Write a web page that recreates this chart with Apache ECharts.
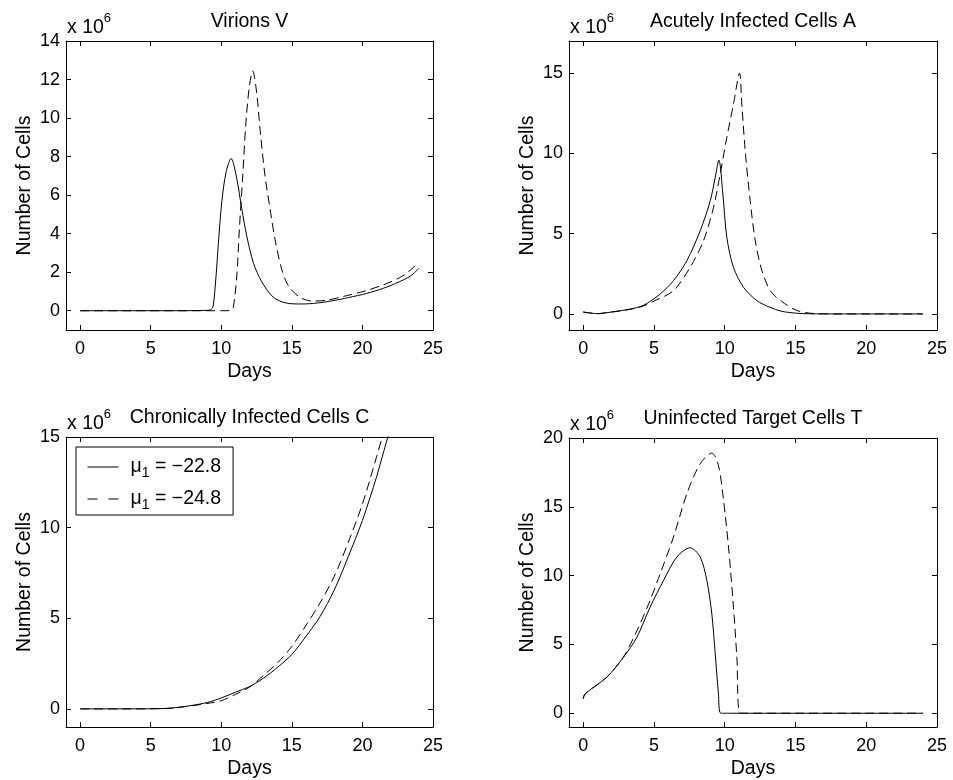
<!DOCTYPE html>
<html>
<head>
<meta charset="utf-8">
<script src="https://cdn.jsdelivr.net/npm/echarts@6/dist/echarts.min.js"></script>
<style>
  html, body { margin: 0; padding: 0; background: #fff; }
  #main { width: 953px; height: 780px; }
</style>
</head>
<body>
<div id="main"></div>
<script>
// x 10^6 units everywhere
var xTicks = [0, 5, 10, 15, 20, 25];
var vTicks = [0, 2, 4, 6, 8, 10, 12, 14];
var aTicks = [0, 5, 10, 15];
var cTicks = [0, 5, 10, 15];
var tTicks = [0, 5, 10, 15, 20];

var legendNames = ['\u03bc1 = \u221222.8', '\u03bc1 = \u221224.8'];

// Virions V
var vDaysSolid = [0, 3, 6, 9, 9.3, 9.44, 9.63, 9.8, 10.03, 10.34, 10.7, 11.1, 11.45, 11.8, 12.27, 12.87, 13.69, 14.6, 15.7, 16.8, 17.9, 19, 20.3, 21.5, 22.6, 23.4, 24];
var vSolid = [0, 0, 0, 0.02, 0.08, 0.3, 1.8, 3.55, 5.6, 7.2, 7.9, 6.85, 5.3, 3.9, 2.5, 1.5, 0.7, 0.4, 0.35, 0.4, 0.52, 0.68, 0.9, 1.17, 1.5, 1.8, 2.2];
var vDaysDashed = [0, 3, 6, 9, 10, 10.7, 10.86, 11.1, 11.28, 11.52, 11.73, 11.99, 12.23, 12.51, 12.75, 13.1, 13.46, 13.81, 14.28, 14.75, 15.58, 16.5, 17.5, 18.7, 20.3, 21.5, 22.6, 23.3, 23.9];
var vDashed = [0, 0, 0, 0, 0, 0.02, 0.2, 1.8, 4.2, 7.0, 9.6, 11.66, 12.45, 11.3, 9.4, 7.0, 5.27, 3.7, 2.16, 1.3, 0.69, 0.5, 0.55, 0.75, 1.05, 1.35, 1.7, 2.05, 2.45];

// Acutely Infected Cells A
var aDaysSolid = [0, 1, 2, 3, 4, 4.5, 5.44, 6.38, 7.33, 8.27, 8.98, 9.33, 9.59, 9.87, 10.15, 10.62, 11.33, 12.27, 13.2, 14, 15, 16, 18, 20, 22, 24];
var aSolid = [0.12, 0.02, 0.12, 0.25, 0.45, 0.65, 1.24, 2.07, 3.32, 5.18, 7.05, 8.5, 9.58, 7.47, 4.77, 2.9, 1.66, 0.83, 0.41, 0.17, 0.05, 0.01, 0, 0, 0, 0];
var aDaysDashed = [0, 1, 2, 3, 4, 5, 6.38, 7.56, 8.5, 9.21, 9.68, 10.15, 10.62, 11.05, 11.21, 11.45, 11.8, 12.16, 12.63, 13.22, 14, 15, 16, 18, 20, 22, 24];
var aDashed = [0.12, 0.02, 0.12, 0.24, 0.42, 0.8, 1.45, 2.9, 4.56, 6.63, 8.71, 10.99, 13.07, 15.0, 13.07, 10.16, 7.05, 4.56, 2.7, 1.45, 0.8, 0.25, 0.05, 0, 0, 0, 0];

// Chronically Infected Cells C
var cDaysSolid = [0, 3, 6, 7, 8, 9, 10, 11, 12, 13, 14, 15, 16, 17, 18, 19, 20, 21, 21.8, 22.4];
var cSolid = [0, 0, 0.02, 0.09, 0.2, 0.35, 0.6, 0.92, 1.23, 1.7, 2.3, 3.0, 4.0, 5.1, 6.55, 8.4, 10.4, 12.8, 15.0, 16.5];
var cDaysDashed = [0, 3, 6, 7, 8, 9, 10, 11, 12, 13, 14, 15, 16, 17, 18, 19, 20, 21, 21.4, 22];
var cDashed = [0, 0, 0.02, 0.08, 0.18, 0.3, 0.45, 0.8, 1.2, 1.85, 2.55, 3.45, 4.6, 5.85, 7.3, 9.2, 11.3, 13.9, 15.0, 16.8];

// Uninfected Target Cells T
var tDaysSolid = [0, 0.14, 1.67, 2.85, 3.8, 4.73, 5.68, 6.62, 7.56, 8.27, 8.74, 9.09, 9.33, 9.56, 9.73, 10.5, 15, 20, 24];
var tSolid = [1.05, 1.41, 2.62, 4.07, 5.53, 7.71, 9.65, 11.35, 12.03, 11.35, 9.65, 7.23, 4.32, 1.41, 0, 0, 0, 0, 0];
var tDaysDashed = [0, 0.14, 1.67, 2.85, 3.8, 4.73, 5.44, 6.38, 7.33, 8.27, 9.09, 9.56, 9.92, 10.27, 10.62, 10.86, 11.1, 12, 15, 20, 24];
var tDashed = [1.05, 1.41, 2.62, 4.1, 6.0, 8.2, 10.13, 12.8, 15.95, 18.13, 18.91, 18.0, 15.47, 12.07, 7.71, 4.07, 0, 0, 0, 0, 0];

var panels = [
  { title: 'Virions V', left: 66, top: 41, width: 367, height: 289, yMin: -1, yMax: 14, yTicks: vTicks,
    solid: [vDaysSolid, vSolid], dashed: [vDaysDashed, vDashed] },
  { title: 'Acutely Infected Cells A', left: 569, top: 41, width: 368, height: 289, yMin: -1, yMax: 17, yTicks: aTicks,
    solid: [aDaysSolid, aSolid], dashed: [aDaysDashed, aDashed] },
  { title: 'Chronically Infected Cells C', left: 66, top: 437, width: 367, height: 290, yMin: -1, yMax: 15, yTicks: cTicks,
    solid: [cDaysSolid, cSolid], dashed: [cDaysDashed, cDashed] },
  { title: 'Uninfected Target Cells T', left: 569, top: 438, width: 368, height: 289, yMin: -1, yMax: 20, yTicks: tTicks,
    solid: [tDaysSolid, tSolid], dashed: [tDaysDashed, tDashed] }
];

var FONT = '"Liberation Sans", Arial, Helvetica, sans-serif';
var BIG = 19.5;

function zip(xs, ys) {
  return xs.map(function (x, i) { return [x, ys[i]]; });
}

var grids = [], xAxes = [], yAxes = [], series = [], titles = [];

panels.forEach(function (p, i) {
  grids.push({ left: p.left, top: p.top, width: p.width, height: p.height, containLabel: false });

  var tickStyle = { show: true, inside: true, length: 5, lineStyle: { color: '#000', width: 1 } };
  // bottom axis with labels
  xAxes.push({
    gridIndex: i, type: 'value', min: -1, max: 25, position: 'bottom',
    name: 'Days', nameLocation: 'middle', nameGap: 32,
    nameTextStyle: { fontSize: BIG, color: '#000', fontFamily: FONT },
    axisLine: { show: true, onZero: false, lineStyle: { color: '#000', width: 1 } },
    axisTick: Object.assign({ customValues: xTicks }, tickStyle),
    axisLabel: { customValues: xTicks, margin: 10, fontSize: 18, color: '#000', fontFamily: FONT },
    splitLine: { show: false }
  });
  // top mirror axis
  xAxes.push({
    gridIndex: i, type: 'value', min: -1, max: 25, position: 'top',
    axisLine: { show: true, onZero: false, lineStyle: { color: '#000', width: 1 } },
    axisTick: Object.assign({ customValues: xTicks }, tickStyle),
    axisLabel: { show: false }, splitLine: { show: false }
  });
  yAxes.push({
    gridIndex: i, type: 'value', min: p.yMin, max: p.yMax, position: 'left',
    name: 'Number of Cells', nameLocation: 'middle', nameGap: 31,
    nameTextStyle: { fontSize: BIG, color: '#000', fontFamily: FONT },
    axisLine: { show: true, onZero: false, lineStyle: { color: '#000', width: 1 } },
    axisTick: Object.assign({ customValues: p.yTicks }, tickStyle),
    axisLabel: { customValues: p.yTicks, margin: 6, fontSize: 18, color: '#000', fontFamily: FONT },
    splitLine: { show: false }
  });
  yAxes.push({
    gridIndex: i, type: 'value', min: p.yMin, max: p.yMax, position: 'right',
    axisLine: { show: true, onZero: false, lineStyle: { color: '#000', width: 1 } },
    axisTick: Object.assign({ customValues: p.yTicks }, tickStyle),
    axisLabel: { show: false }, splitLine: { show: false }
  });

  series.push({
    name: legendNames[0], type: 'line', xAxisIndex: i * 2, yAxisIndex: i * 2,
    data: zip(p.solid[0], p.solid[1]), showSymbol: false, symbol: 'none', smooth: 0.3, clip: true,
    lineStyle: { color: '#000', width: 1, type: 'solid' }, itemStyle: { color: '#000' }, silent: true
  });
  series.push({
    name: legendNames[1], type: 'line', xAxisIndex: i * 2, yAxisIndex: i * 2,
    data: zip(p.dashed[0], p.dashed[1]), showSymbol: false, symbol: 'none', smooth: 0.3, clip: true,
    lineStyle: { color: '#000', width: 1, type: [9, 5] }, itemStyle: { color: '#000' }, silent: true
  });

  var cx = p.left + p.width / 2;
  titles.push({
    text: p.title, left: cx, top: p.top - 29.5, textAlign: 'center', padding: 0,
    textStyle: { fontSize: BIG, fontWeight: 'normal', color: '#000', fontFamily: FONT, lineHeight: 20 }
  });
  titles.push({
    text: '{b|x 10}{s|6}', left: p.left + 1, top: p.top - 23, padding: 0,
    textStyle: {
      fontWeight: 'normal',
      rich: {
        b: { fontSize: BIG, lineHeight: 20, fontWeight: 'normal', color: '#000', fontFamily: FONT },
        s: { fontSize: 13, lineHeight: 13, fontWeight: 'normal', color: '#000', fontFamily: FONT, padding: [0, 0, 20, 0] }
      }
    }
  });
});

var myChart = echarts.init(document.getElementById('main'), null, { renderer: 'canvas' });
myChart.setOption({
  backgroundColor: '#fff',
  animation: false,
  title: titles,
  grid: grids,
  xAxis: xAxes,
  yAxis: yAxes,
  legend: {
    data: [
      { name: legendNames[0] },
      { name: legendNames[1], lineStyle: { type: [10, 11], width: 1 } }
    ],
    orient: 'vertical', left: 76, top: 447,
    padding: [7, 12, 3, 11], itemGap: 6, itemWidth: 31, itemHeight: 14,
    borderColor: '#000', borderWidth: 1, backgroundColor: '#fff',
    selectedMode: false,
    itemStyle: { opacity: 0, color: 'transparent', borderWidth: 0 },
    lineStyle: { width: 1, color: '#000' },
    formatter: function (name) {
      var rest = name.slice(2);
      return '{a|\u03bc}{s|1}{a|' + rest + '}';
    },
    textStyle: {
      rich: {
        a: { fontSize: BIG, lineHeight: 20, color: '#000', fontFamily: FONT },
        s: { fontSize: 14, lineHeight: 14, color: '#000', fontFamily: FONT, padding: [12, 0, 0, 0] }
      },
      padding: [0, 0, 0, 7]
    }
  },
  series: series
});
</script>
</body>
</html>
